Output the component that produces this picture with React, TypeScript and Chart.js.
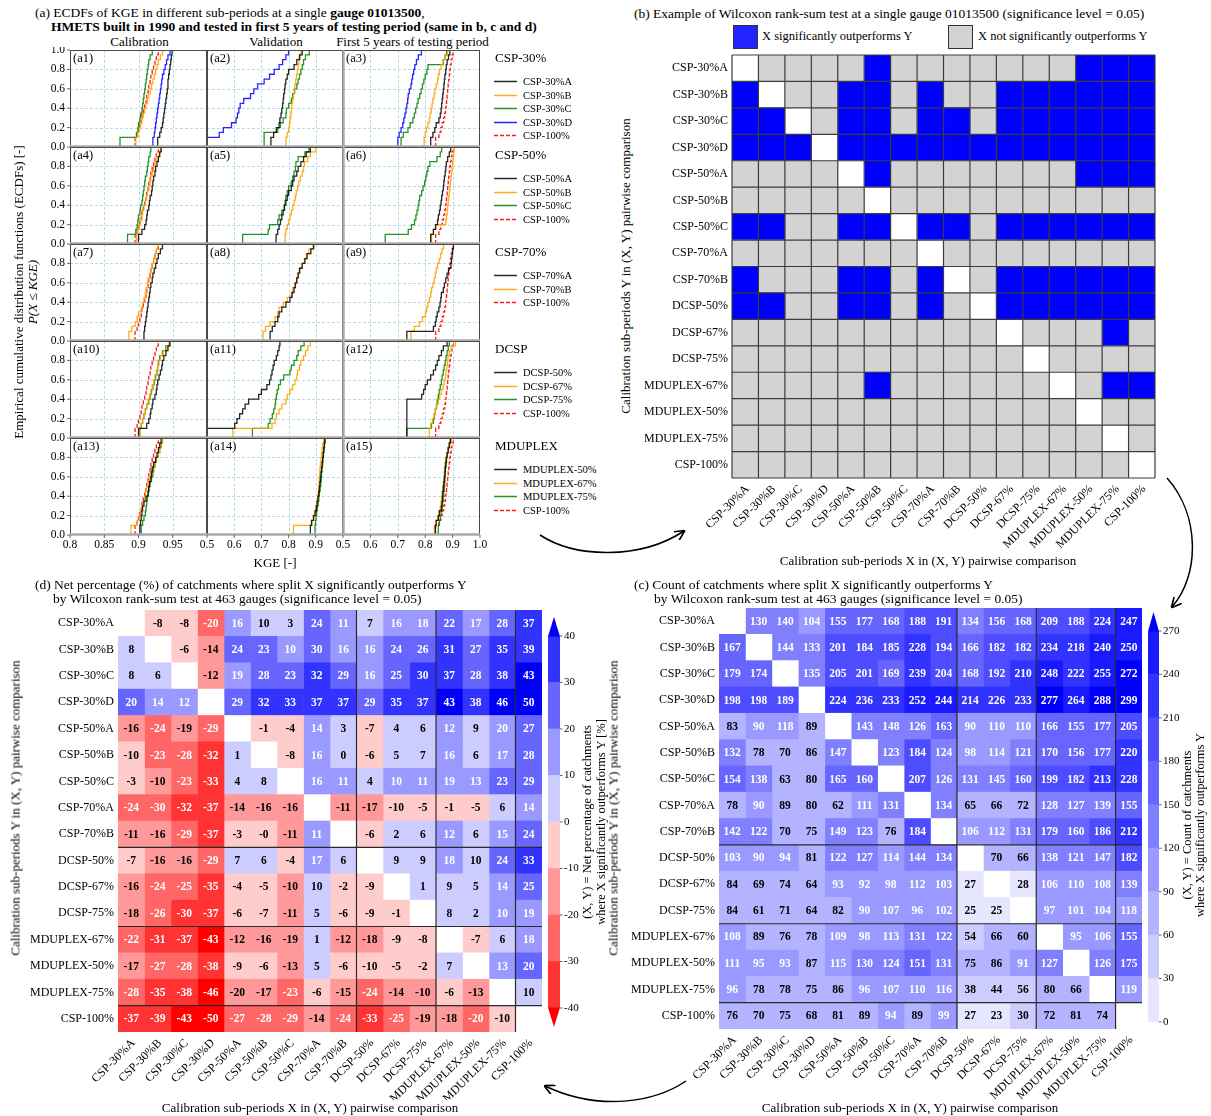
import React, { useEffect, useRef } from 'react';
import { Chart, registerables } from 'chart.js';

Chart.register(...registerables);

const FONT = '"Liberation Serif", "Times New Roman", serif';

// ---------------- Panel (a): ECDF data (sorted KGE samples, 20 per split) ----------------
const X_TICKS_CAL = [0.8, 0.85, 0.9, 0.95];
const X_TICKS_VAL = [0.5, 0.6, 0.7, 0.8, 0.9];
const X_TICKS_TEST = [0.5, 0.6, 0.7, 0.8, 0.9, 1.0];
const X_GRID_CAL = [0.85, 0.9, 0.95];
const X_GRID_WIDE = [0.6, 0.7, 0.8, 0.9];
const Y_TICKS = [0, 0.2, 0.4, 0.6, 0.8, 1.0];
const COLUMN_TITLES = ['Calibration', 'Validation', 'First 5 years of testing period'];
const GROUP_TITLES = ['CSP-30%', 'CSP-50%', 'CSP-70%', 'DCSP', 'MDUPLEX'];
const GROUP_SERIES = [
  ['CSP-30%A', 'CSP-30%B', 'CSP-30%C', 'CSP-30%D', 'CSP-100%'],
  ['CSP-50%A', 'CSP-50%B', 'CSP-50%C', 'CSP-100%'],
  ['CSP-70%A', 'CSP-70%B', 'CSP-100%'],
  ['DCSP-50%', 'DCSP-67%', 'DCSP-75%', 'CSP-100%'],
  ['MDUPLEX-50%', 'MDUPLEX-67%', 'MDUPLEX-75%', 'CSP-100%'],
];
const SERIES_COLORS = ['rgba(0,0,0,0.85)', 'rgba(255,165,0,0.9)', 'rgba(0,128,0,0.85)', 'rgba(0,0,255,0.85)'];
const REF_COLOR = 'rgba(255,0,0,0.9)';

const CSP100_CAL = [0.895, 0.898, 0.9, 0.902, 0.904, 0.905, 0.907, 0.909, 0.911, 0.912, 0.914, 0.915, 0.917, 0.918, 0.92, 0.922, 0.924, 0.926, 0.929, 0.933];
const CSP100_TEST = [0.838, 0.85, 0.857, 0.862, 0.867, 0.871, 0.874, 0.876, 0.878, 0.88, 0.882, 0.884, 0.886, 0.888, 0.89, 0.892, 0.895, 0.898, 0.902, 0.906];

const KGE_CAL_CSP30 = [
  [0.928, 0.931, 0.933, 0.935, 0.936, 0.937, 0.938, 0.939, 0.94, 0.941, 0.942, 0.943, 0.943, 0.944, 0.945, 0.946, 0.947, 0.948, 0.949, 0.951],
  [0.896, 0.899, 0.901, 0.903, 0.905, 0.907, 0.909, 0.911, 0.913, 0.915, 0.917, 0.919, 0.921, 0.923, 0.925, 0.927, 0.929, 0.932, 0.935, 0.939],
  [0.873, 0.897, 0.899, 0.9, 0.902, 0.903, 0.905, 0.906, 0.907, 0.908, 0.909, 0.91, 0.911, 0.912, 0.913, 0.914, 0.915, 0.917, 0.92, 0.938],
  [0.921, 0.923, 0.924, 0.925, 0.926, 0.927, 0.928, 0.929, 0.93, 0.931, 0.932, 0.933, 0.934, 0.935, 0.937, 0.939, 0.941, 0.943, 0.946, 0.951],
];
const KGE_VAL_CSP30 = [
  [0.735, 0.745, 0.755, 0.765, 0.768, 0.772, 0.775, 0.778, 0.78, 0.782, 0.785, 0.787, 0.79, 0.795, 0.8, 0.82, 0.83, 0.84, 0.85, 0.86],
  [0.79, 0.795, 0.8, 0.803, 0.806, 0.808, 0.81, 0.812, 0.815, 0.818, 0.82, 0.823, 0.826, 0.829, 0.832, 0.835, 0.838, 0.842, 0.846, 0.85],
  [0.71, 0.71, 0.76, 0.77, 0.78, 0.79, 0.792, 0.8, 0.81, 0.815, 0.822, 0.83, 0.835, 0.84, 0.845, 0.85, 0.855, 0.862, 0.876, 0.88],
  [0.45, 0.545, 0.56, 0.59, 0.607, 0.612, 0.617, 0.622, 0.635, 0.66, 0.672, 0.686, 0.71, 0.73, 0.747, 0.765, 0.778, 0.79, 0.8, 0.82],
];
const KGE_TEST_CSP30 = [
  [0.82, 0.828, 0.835, 0.84, 0.85, 0.855, 0.858, 0.86, 0.862, 0.864, 0.866, 0.868, 0.87, 0.872, 0.875, 0.877, 0.88, 0.885, 0.89, 0.895],
  [0.796, 0.8, 0.805, 0.81, 0.815, 0.818, 0.822, 0.825, 0.828, 0.832, 0.835, 0.84, 0.845, 0.848, 0.852, 0.858, 0.865, 0.872, 0.882, 0.895],
  [0.712, 0.72, 0.737, 0.745, 0.755, 0.76, 0.765, 0.77, 0.774, 0.78, 0.785, 0.79, 0.795, 0.8, 0.806, 0.81, 0.866, 0.872, 0.878, 0.884],
  [0.7, 0.705, 0.712, 0.718, 0.722, 0.726, 0.73, 0.733, 0.736, 0.738, 0.742, 0.748, 0.751, 0.754, 0.758, 0.762, 0.768, 0.775, 0.786, 0.79],
];
const KGE_CAL_CSP50 = [
  [0.9, 0.905, 0.909, 0.911, 0.912, 0.913, 0.915, 0.916, 0.917, 0.919, 0.92, 0.921, 0.922, 0.924, 0.925, 0.927, 0.929, 0.931, 0.933, 0.936],
  [0.897, 0.899, 0.901, 0.903, 0.905, 0.906, 0.908, 0.91, 0.912, 0.913, 0.915, 0.917, 0.918, 0.92, 0.922, 0.924, 0.927, 0.93, 0.933, 0.936],
  [0.884, 0.896, 0.898, 0.899, 0.9, 0.902, 0.903, 0.905, 0.906, 0.907, 0.908, 0.909, 0.91, 0.912, 0.913, 0.914, 0.915, 0.917, 0.918, 0.921],
];
const KGE_VAL_CSP50 = [
  [0.754, 0.76, 0.765, 0.77, 0.775, 0.78, 0.785, 0.79, 0.795, 0.8, 0.81, 0.815, 0.82, 0.83, 0.835, 0.845, 0.855, 0.865, 0.88, 0.895],
  [0.787, 0.79, 0.795, 0.8, 0.805, 0.81, 0.815, 0.82, 0.825, 0.828, 0.833, 0.838, 0.843, 0.85, 0.855, 0.858, 0.87, 0.88, 0.9, 0.913],
  [0.631, 0.725, 0.73, 0.76, 0.765, 0.775, 0.784, 0.787, 0.79, 0.795, 0.8, 0.81, 0.815, 0.82, 0.825, 0.827, 0.835, 0.86, 0.875, 0.895],
];
const KGE_TEST_CSP50 = [
  [0.82, 0.83, 0.838, 0.845, 0.848, 0.852, 0.855, 0.858, 0.86, 0.863, 0.866, 0.868, 0.87, 0.873, 0.875, 0.877, 0.882, 0.888, 0.893, 0.897],
  [0.823, 0.83, 0.838, 0.875, 0.878, 0.88, 0.882, 0.884, 0.886, 0.888, 0.89, 0.892, 0.894, 0.896, 0.898, 0.9, 0.902, 0.904, 0.906, 0.908],
  [0.654, 0.738, 0.75, 0.761, 0.766, 0.77, 0.774, 0.777, 0.78, 0.787, 0.792, 0.798, 0.802, 0.806, 0.81, 0.817, 0.843, 0.855, 0.86, 0.866],
];
const KGE_CAL_CSP70 = [
  [0.908, 0.909, 0.91, 0.911, 0.912, 0.913, 0.914, 0.915, 0.916, 0.917, 0.918, 0.92, 0.921, 0.923, 0.925, 0.927, 0.929, 0.932, 0.935, 0.942],
  [0.886, 0.89, 0.895, 0.898, 0.9, 0.904, 0.906, 0.908, 0.91, 0.911, 0.913, 0.914, 0.916, 0.918, 0.92, 0.922, 0.924, 0.926, 0.928, 0.931],
];
const KGE_VAL_CSP70 = [
  [0.732, 0.74, 0.75, 0.76, 0.765, 0.775, 0.79, 0.805, 0.813, 0.82, 0.825, 0.83, 0.835, 0.84, 0.85, 0.86, 0.868, 0.882, 0.892, 0.903],
  [0.706, 0.715, 0.732, 0.75, 0.76, 0.765, 0.78, 0.795, 0.81, 0.815, 0.823, 0.83, 0.835, 0.842, 0.85, 0.858, 0.865, 0.875, 0.89, 0.907],
];
const KGE_TEST_CSP70 = [
  [0.733, 0.83, 0.837, 0.84, 0.844, 0.85, 0.854, 0.857, 0.859, 0.866, 0.87, 0.875, 0.88, 0.885, 0.894, 0.896, 0.898, 0.9, 0.903, 0.906],
  [0.748, 0.76, 0.779, 0.79, 0.801, 0.805, 0.81, 0.815, 0.82, 0.823, 0.828, 0.833, 0.837, 0.84, 0.845, 0.851, 0.856, 0.861, 0.867, 0.873],
];
const KGE_CAL_DCSP = [
  [0.9, 0.912, 0.915, 0.917, 0.918, 0.92, 0.921, 0.924, 0.926, 0.927, 0.928, 0.93, 0.932, 0.934, 0.935, 0.937, 0.94, 0.943, 0.946, 0.949],
  [0.902, 0.904, 0.906, 0.908, 0.91, 0.912, 0.914, 0.916, 0.918, 0.92, 0.922, 0.924, 0.926, 0.928, 0.93, 0.932, 0.936, 0.941, 0.945, 0.95],
  [0.902, 0.904, 0.906, 0.908, 0.91, 0.912, 0.915, 0.917, 0.919, 0.921, 0.923, 0.925, 0.927, 0.928, 0.929, 0.931, 0.935, 0.94, 0.945, 0.949],
];
const KGE_VAL_DCSP = [
  [0.45, 0.602, 0.61, 0.62, 0.631, 0.64, 0.653, 0.69, 0.7, 0.72, 0.73, 0.735, 0.739, 0.743, 0.747, 0.755, 0.76, 0.765, 0.768, 0.785],
  [0.595, 0.739, 0.75, 0.755, 0.765, 0.775, 0.79, 0.795, 0.805, 0.815, 0.823, 0.83, 0.833, 0.84, 0.845, 0.855, 0.862, 0.87, 0.88, 0.89],
  [0.667, 0.725, 0.732, 0.74, 0.745, 0.75, 0.752, 0.755, 0.758, 0.763, 0.77, 0.782, 0.805, 0.81, 0.82, 0.83, 0.835, 0.845, 0.857, 0.868],
];
const KGE_TEST_DCSP = [
  [0.733, 0.733, 0.733, 0.733, 0.733, 0.733, 0.733, 0.787, 0.794, 0.8, 0.808, 0.82, 0.83, 0.838, 0.844, 0.85, 0.859, 0.866, 0.88, 0.887],
  [0.815, 0.82, 0.826, 0.832, 0.837, 0.842, 0.848, 0.853, 0.859, 0.865, 0.869, 0.873, 0.876, 0.879, 0.881, 0.883, 0.888, 0.895, 0.91, 0.923],
  [0.733, 0.823, 0.83, 0.834, 0.837, 0.841, 0.844, 0.848, 0.851, 0.855, 0.859, 0.862, 0.866, 0.869, 0.873, 0.876, 0.88, 0.884, 0.888, 0.895],
];
const KGE_CAL_MDUPLEX = [
  [0.902, 0.903, 0.904, 0.905, 0.906, 0.908, 0.911, 0.914, 0.915, 0.916, 0.918, 0.919, 0.92, 0.922, 0.925, 0.927, 0.929, 0.931, 0.933, 0.935],
  [0.889, 0.898, 0.901, 0.903, 0.905, 0.907, 0.909, 0.91, 0.912, 0.914, 0.916, 0.918, 0.92, 0.923, 0.926, 0.929, 0.931, 0.933, 0.935, 0.937],
  [0.904, 0.906, 0.908, 0.91, 0.911, 0.912, 0.913, 0.914, 0.915, 0.917, 0.919, 0.921, 0.922, 0.924, 0.926, 0.929, 0.931, 0.933, 0.935, 0.936],
];
const KGE_VAL_MDUPLEX = [
  [0.88, 0.885, 0.892, 0.898, 0.902, 0.905, 0.908, 0.911, 0.913, 0.915, 0.917, 0.919, 0.921, 0.923, 0.925, 0.927, 0.929, 0.931, 0.933, 0.935],
  [0.818, 0.883, 0.89, 0.895, 0.9, 0.903, 0.906, 0.909, 0.911, 0.912, 0.913, 0.914, 0.915, 0.917, 0.919, 0.921, 0.923, 0.926, 0.929, 0.933],
  [0.897, 0.899, 0.901, 0.903, 0.906, 0.909, 0.911, 0.913, 0.916, 0.918, 0.92, 0.921, 0.923, 0.925, 0.926, 0.928, 0.93, 0.932, 0.934, 0.936],
];
const KGE_TEST_MDUPLEX = [
  [0.837, 0.84, 0.848, 0.852, 0.859, 0.861, 0.863, 0.864, 0.866, 0.868, 0.87, 0.872, 0.873, 0.875, 0.877, 0.88, 0.884, 0.888, 0.892, 0.895],
  [0.834, 0.84, 0.845, 0.85, 0.855, 0.858, 0.86, 0.862, 0.864, 0.866, 0.868, 0.869, 0.87, 0.872, 0.875, 0.88, 0.885, 0.89, 0.896, 0.902],
  [0.848, 0.852, 0.855, 0.858, 0.862, 0.864, 0.866, 0.868, 0.87, 0.871, 0.872, 0.873, 0.874, 0.876, 0.878, 0.88, 0.884, 0.888, 0.892, 0.895],
];

const PANEL_A = [
  [KGE_CAL_CSP30, KGE_VAL_CSP30, KGE_TEST_CSP30],
  [KGE_CAL_CSP50, KGE_VAL_CSP50, KGE_TEST_CSP50],
  [KGE_CAL_CSP70, KGE_VAL_CSP70, KGE_TEST_CSP70],
  [KGE_CAL_DCSP, KGE_VAL_DCSP, KGE_TEST_DCSP],
  [KGE_CAL_MDUPLEX, KGE_VAL_MDUPLEX, KGE_TEST_MDUPLEX],
];

// ---------------- Panels (b), (c), (d) ----------------
const SPLITS = ['CSP-30%A', 'CSP-30%B', 'CSP-30%C', 'CSP-30%D', 'CSP-50%A', 'CSP-50%B', 'CSP-50%C', 'CSP-70%A', 'CSP-70%B', 'DCSP-50%', 'DCSP-67%', 'DCSP-75%', 'MDUPLEX-67%', 'MDUPLEX-50%', 'MDUPLEX-75%', 'CSP-100%'];
const N_GAUGES = 463;

// (b) 1 = X (column) significantly outperforms Y (row) at gauge 01013500
const SIG_ROWS = [
  [0, 0, 0, 0, 0, 1, 0, 0, 0, 0, 0, 0, 0, 1, 1, 1],
  [1, 0, 0, 0, 1, 1, 0, 1, 0, 0, 1, 1, 1, 1, 1, 1],
  [1, 1, 0, 0, 1, 1, 0, 1, 1, 0, 1, 1, 1, 1, 1, 1],
  [1, 1, 1, 0, 1, 1, 1, 1, 1, 1, 1, 1, 1, 1, 1, 1],
  [0, 0, 0, 0, 0, 1, 0, 0, 0, 0, 0, 0, 0, 1, 1, 1],
  [0, 0, 0, 0, 0, 0, 0, 0, 0, 0, 0, 0, 0, 0, 0, 0],
  [1, 1, 0, 0, 1, 1, 0, 1, 1, 0, 1, 1, 1, 1, 1, 1],
  [0, 0, 0, 0, 0, 0, 0, 0, 0, 0, 0, 0, 0, 0, 0, 0],
  [1, 0, 0, 0, 1, 1, 0, 1, 0, 0, 1, 1, 1, 1, 1, 1],
  [1, 1, 0, 0, 1, 1, 0, 1, 0, 0, 1, 1, 1, 1, 1, 1],
  [0, 0, 0, 0, 0, 0, 0, 0, 0, 0, 0, 0, 0, 0, 1, 0],
  [0, 0, 0, 0, 0, 0, 0, 0, 0, 0, 0, 0, 0, 0, 0, 0],
  [0, 0, 0, 0, 0, 1, 0, 0, 0, 0, 0, 0, 0, 0, 1, 1],
  [0, 0, 0, 0, 0, 0, 0, 0, 0, 0, 0, 0, 0, 0, 0, 0],
  [0, 0, 0, 0, 0, 0, 0, 0, 0, 0, 0, 0, 0, 0, 0, 0],
  [0, 0, 0, 0, 0, 0, 0, 0, 0, 0, 0, 0, 0, 0, 0, 0],
];

// (c) count of catchments where X (column) significantly outperforms Y (row); null = diagonal
const COUNT_ROWS = [
  [null, 130, 140, 104, 155, 177, 168, 188, 191, 134, 156, 168, 209, 188, 224, 247],
  [167, null, 144, 133, 201, 184, 185, 228, 194, 166, 182, 182, 234, 218, 240, 250],
  [179, 174, null, 135, 205, 201, 169, 239, 204, 168, 192, 210, 248, 222, 255, 272],
  [198, 198, 189, null, 224, 236, 233, 252, 244, 214, 226, 233, 277, 264, 288, 299],
  [83, 90, 118, 89, null, 143, 148, 126, 163, 90, 110, 110, 166, 155, 177, 205],
  [132, 78, 70, 86, 147, null, 123, 184, 124, 98, 114, 121, 170, 156, 177, 220],
  [154, 138, 63, 80, 165, 160, null, 207, 126, 131, 145, 160, 199, 182, 213, 228],
  [78, 90, 89, 80, 62, 111, 131, null, 134, 65, 66, 72, 128, 127, 139, 155],
  [142, 122, 70, 75, 149, 123, 76, 184, null, 106, 112, 131, 179, 160, 186, 212],
  [103, 90, 94, 81, 122, 127, 114, 144, 134, null, 70, 66, 138, 121, 147, 182],
  [84, 69, 74, 64, 93, 92, 98, 112, 103, 27, null, 28, 106, 110, 108, 139],
  [84, 61, 71, 64, 82, 90, 107, 96, 102, 25, 25, null, 97, 101, 104, 118],
  [108, 89, 76, 78, 109, 98, 113, 131, 122, 54, 66, 60, null, 95, 106, 155],
  [111, 95, 93, 87, 115, 130, 124, 151, 131, 75, 86, 91, 127, null, 126, 175],
  [96, 78, 78, 75, 86, 96, 107, 110, 116, 38, 44, 56, 80, 66, null, 119],
  [76, 70, 75, 68, 81, 89, 94, 89, 99, 27, 23, 30, 72, 81, 74, null],
];

const GROUP_BREAKS = [9, 12, 15];
const COUNT_BOUNDS = [0, 30, 60, 90, 120, 150, 180, 210, 240, 270];
const COUNT_COLORS = ['rgb(230,230,255)', 'rgb(204,204,255)', 'rgb(179,179,255)', 'rgb(153,153,255)', 'rgb(128,128,255)', 'rgb(102,102,255)', 'rgb(77,77,255)', 'rgb(51,51,255)', 'rgb(26,26,255)'];
const COUNT_OVER = 'rgb(0,0,250)';
const NET_BOUNDS = [-40, -30, -20, -10, 0, 10, 20, 30, 40];
const NET_COLORS = ['rgb(255,51,51)', 'rgb(255,102,102)', 'rgb(255,153,153)', 'rgb(255,204,204)', 'rgb(204,204,255)', 'rgb(153,153,255)', 'rgb(102,102,255)', 'rgb(51,51,255)'];
const NET_UNDER = 'rgb(255,0,0)';
const NET_OVER = 'rgb(0,0,245)';

// net percentage table built from the counts: (N(X>Y) - N(Y>X)) / 463 * 100
const netValue = (i: number, j: number) =>
  i === j ? null : (((COUNT_ROWS[i][j] as number) - (COUNT_ROWS[j][i] as number)) / N_GAUGES) * 100;

function countColor(v: number | null) {
  if (v === null) return '#ffffff';
  const k = Math.floor(v / 30);
  return k >= 9 ? COUNT_OVER : COUNT_COLORS[k];
}
function netColor(v: number | null) {
  if (v === null) return '#ffffff';
  if (v >= 40) return NET_OVER;
  if (v < -40) return NET_UNDER;
  return NET_COLORS[Math.floor(v / 10) + 4];
}
function fmtNet(v: number) {
  return (v < 0 ? '-' : '') + Math.round(Math.abs(v));
}

// ---------------- generic chart host ----------------
function ChartBox({ x, y, w, h, make }: { x: number; y: number; w: number; h: number; make: () => any }) {
  const ref = useRef<HTMLCanvasElement | null>(null);
  useEffect(() => {
    const chart = new Chart(ref.current as HTMLCanvasElement, make());
    return () => chart.destroy();
  }, []);
  return <canvas ref={ref} width={w} height={h} style={{ position: 'absolute', left: x, top: y, width: w, height: h }} />;
}

const baseOptions = (pad: any) => ({
  responsive: false,
  maintainAspectRatio: false,
  animation: false,
  devicePixelRatio: 1,
  events: [],
  layout: { padding: pad },
  plugins: { legend: { display: false }, tooltip: { enabled: false } },
});

// ---------------- ECDF subplot ----------------
const PX = [70, 207, 343, 480];
const PY0 = 50;
const ROW_H = 97;

function ecdfPoints(vals: number[]) {
  const s = [...vals].sort((a, b) => a - b);
  const pts = [{ x: s[0], y: 0 }];
  s.forEach((v, i) => pts.push({ x: v, y: (i + 1) / s.length }));
  return pts;
}

function ecdfPlugin(r: number, c: number) {
  const xGrid = c === 0 ? X_GRID_CAL : X_GRID_WIDE;
  const xTicks = c === 0 ? X_TICKS_CAL : c === 1 ? X_TICKS_VAL : X_TICKS_TEST;
  return {
    id: 'ecdfFrame',
    beforeDatasetsDraw(chart: any) {
      const { ctx, chartArea: ca, scales } = chart;
      ctx.save();
      ctx.strokeStyle = 'rgba(140,195,220,0.75)';
      ctx.lineWidth = 0.8;
      ctx.setLineDash([3, 2]);
      xGrid.forEach((v) => {
        const px = Math.round(scales.x.getPixelForValue(v)) + 0.5;
        ctx.beginPath(); ctx.moveTo(px, ca.top); ctx.lineTo(px, ca.bottom); ctx.stroke();
      });
      [0.2, 0.4, 0.6, 0.8].forEach((v) => {
        const py = Math.round(scales.y.getPixelForValue(v)) + 0.5;
        ctx.beginPath(); ctx.moveTo(ca.left, py); ctx.lineTo(ca.right, py); ctx.stroke();
      });
      ctx.restore();
    },
    afterDatasetsDraw(chart: any) {
      const { ctx, chartArea: ca, scales } = chart;
      ctx.save();
      ctx.strokeStyle = '#4a4a4a';
      ctx.lineWidth = 1;
      ctx.strokeRect(ca.left + 0.5, ca.top + 0.5, ca.right - ca.left - 1, ca.bottom - ca.top - 1);
      ctx.strokeStyle = '#a9a9a9';
      ctx.lineWidth = 2.4;
      ctx.beginPath(); ctx.moveTo(ca.left, ca.bottom - 0.5); ctx.lineTo(ca.right, ca.bottom - 0.5); ctx.stroke();
      if (c === 2) {
        ctx.beginPath(); ctx.moveTo(ca.left + 0.5, ca.top); ctx.lineTo(ca.left + 0.5, ca.bottom); ctx.stroke();
      }
      ctx.fillStyle = '#000';
      ctx.font = `12.5px ${FONT}`;
      ctx.textAlign = 'left';
      ctx.textBaseline = 'middle';
      ctx.fillText(`(a${r * 3 + c + 1})`, ca.left + 3, ca.top + 9);
      ctx.font = `11.5px ${FONT}`;
      ctx.strokeStyle = '#444';
      ctx.lineWidth = 0.8;
      if (c === 0) {
        ctx.textAlign = 'right';
        Y_TICKS.forEach((v) => {
          if (r > 0 && v === 1) return;
          const py = scales.y.getPixelForValue(v);
          ctx.beginPath(); ctx.moveTo(ca.left - 3, py); ctx.lineTo(ca.left, py); ctx.stroke();
          ctx.fillText(v.toFixed(1), ca.left - 5, py);
        });
      }
      if (r === 4) {
        ctx.textAlign = 'center';
        ctx.textBaseline = 'top';
        xTicks.forEach((v) => {
          const px = scales.x.getPixelForValue(v);
          ctx.beginPath(); ctx.moveTo(px, ca.bottom); ctx.lineTo(px, ca.bottom + 3); ctx.stroke();
          const label = c === 0 && (v === 0.85 || v === 0.95) ? v.toFixed(2) : v.toFixed(1);
          ctx.fillText(label, px, ca.bottom + 4);
        });
      }
      ctx.restore();
    },
  };
}

function makeEcdf(r: number, c: number, pad: any) {
  return () => {
    const series = PANEL_A[r][c];
    const datasets: any[] = series.map((vals, i) => ({
      data: ecdfPoints(vals),
      borderColor: SERIES_COLORS[i],
      borderWidth: 1.3,
      stepped: 'after',
      pointRadius: 0,
      fill: false,
    }));
    if (c !== 1) {
      datasets.push({
        data: ecdfPoints(c === 0 ? CSP100_CAL : CSP100_TEST),
        borderColor: REF_COLOR,
        borderWidth: 1.3,
        borderDash: [4, 2],
        stepped: 'after',
        pointRadius: 0,
        fill: false,
      });
    }
    return {
      type: 'line',
      data: { datasets },
      options: {
        ...baseOptions(pad),
        scales: {
          x: { type: 'linear', min: c === 0 ? 0.8 : 0.5, max: 1.0, display: false },
          y: { type: 'linear', min: 0, max: 1, display: false },
        },
      },
      plugins: [ecdfPlugin(r, c)],
    };
  };
}

function EcdfCell({ r, c }: { r: number; c: number }) {
  const x0 = PX[c], x1 = PX[c + 1];
  const y0 = PY0 + r * ROW_H, y1 = y0 + ROW_H;
  const pl = c === 0 ? 45 : 12;
  const pr = c === 2 ? 12 : 3;
  const pt = 3;
  const pb = r === 4 ? 20 : 3;
  const pad = { left: pl, right: pr, top: pt, bottom: pb };
  return <ChartBox x={x0 - pl} y={y0 - pt} w={x1 - x0 + pl + pr} h={y1 - y0 + pt + pb} make={makeEcdf(r, c, pad)} />;
}

// ---------------- heatmaps ----------------
function heatmapPlugin(p: {
  text?: (i: number, j: number) => string | null;
  textColor?: (i: number, j: number) => string;
  allBorders?: boolean;
  groupLines?: number[];
}) {
  return {
    id: 'heatDecor',
    afterDatasetsDraw(chart: any) {
      const { ctx, chartArea: ca, scales } = chart;
      const xs = scales.x, ys = scales.y;
      const n = SPLITS.length;
      const rowH = (ca.bottom - ca.top) / n;
      ctx.save();
      if (p.text) {
        ctx.font = `bold 11.5px ${FONT}`;
        ctx.textAlign = 'center';
        ctx.textBaseline = 'middle';
        for (let i = 0; i < n; i++) {
          for (let j = 0; j < n; j++) {
            const t = p.text(i, j);
            if (t === null) continue;
            ctx.fillStyle = p.textColor ? p.textColor(i, j) : '#000';
            ctx.fillText(t, xs.getPixelForValue(j + 0.5), ys.getPixelForValue(i) + 0.5);
          }
        }
      }
      if (p.allBorders) {
        ctx.strokeStyle = '#3c3c3c';
        ctx.lineWidth = 1.2;
        for (let k = 0; k <= n; k++) {
          const px = xs.getPixelForValue(k);
          ctx.beginPath(); ctx.moveTo(px, ca.top); ctx.lineTo(px, ca.bottom); ctx.stroke();
          const py = ca.top + k * rowH;
          ctx.beginPath(); ctx.moveTo(ca.left, py); ctx.lineTo(ca.right, py); ctx.stroke();
        }
      }
      if (p.groupLines) {
        ctx.strokeStyle = '#2a2a2a';
        ctx.lineWidth = 1.2;
        p.groupLines.forEach((k) => {
          const px = xs.getPixelForValue(k);
          ctx.beginPath(); ctx.moveTo(px, ca.top); ctx.lineTo(px, ca.bottom); ctx.stroke();
          const py = ca.top + k * rowH;
          ctx.beginPath(); ctx.moveTo(ca.left, py); ctx.lineTo(ca.right, py); ctx.stroke();
        });
      }
      ctx.fillStyle = '#000';
      ctx.font = `12px ${FONT}`;
      ctx.textAlign = 'right';
      ctx.textBaseline = 'middle';
      SPLITS.forEach((s, i) => ctx.fillText(s, ca.left - 4, ys.getPixelForValue(i)));
      SPLITS.forEach((s, j) => {
        ctx.save();
        ctx.translate(xs.getPixelForValue(j + 0.5) - 2, ca.bottom + 5);
        ctx.rotate(-Math.PI / 4);
        ctx.textAlign = 'right';
        ctx.textBaseline = 'top';
        ctx.fillText(s, 0, 0);
        ctx.restore();
      });
      ctx.restore();
    },
  };
}

function makeHeatmap(pad: any, color: (i: number, j: number) => string, plugin: any) {
  return () => ({
    type: 'bar',
    data: {
      labels: SPLITS,
      datasets: SPLITS.map((_, j) => ({
        data: SPLITS.map(() => [j, j + 1]),
        backgroundColor: SPLITS.map((__, i) => color(i, j)),
        borderWidth: 0,
        grouped: false,
        barPercentage: 1,
        categoryPercentage: 1,
      })),
    },
    options: {
      ...baseOptions(pad),
      indexAxis: 'y',
      scales: {
        x: { type: 'linear', min: 0, max: SPLITS.length, display: false },
        y: { type: 'category', display: false, offset: true },
      },
    },
    plugins: [plugin],
  });
}

function colorbarPlugin(p: { ticks: number[]; over?: string; under?: string; tip: number }) {
  return {
    id: 'cbarDecor',
    afterDatasetsDraw(chart: any) {
      const { ctx, chartArea: ca, scales } = chart;
      const cx = (ca.left + ca.right) / 2;
      ctx.save();
      if (p.over) {
        ctx.fillStyle = p.over;
        ctx.beginPath(); ctx.moveTo(ca.left, ca.top + 0.5); ctx.lineTo(ca.right, ca.top + 0.5); ctx.lineTo(cx, ca.top - p.tip); ctx.closePath(); ctx.fill();
      }
      if (p.under) {
        ctx.fillStyle = p.under;
        ctx.beginPath(); ctx.moveTo(ca.left, ca.bottom - 0.5); ctx.lineTo(ca.right, ca.bottom - 0.5); ctx.lineTo(cx, ca.bottom + p.tip); ctx.closePath(); ctx.fill();
      }
      ctx.font = `11px ${FONT}`;
      ctx.fillStyle = '#000';
      ctx.textAlign = 'left';
      ctx.textBaseline = 'middle';
      ctx.strokeStyle = '#333';
      ctx.lineWidth = 0.8;
      p.ticks.forEach((v) => {
        const py = scales.y.getPixelForValue(v);
        ctx.beginPath(); ctx.moveTo(ca.right, py); ctx.lineTo(ca.right + 2.5, py); ctx.stroke();
        ctx.fillText(String(v), ca.right + 4, py);
      });
      ctx.restore();
    },
  };
}

function makeColorbar(pad: any, bounds: number[], colors: string[], plugin: any) {
  return () => ({
    type: 'bar',
    data: {
      labels: [''],
      datasets: colors.map((col, k) => ({
        data: [[bounds[k], bounds[k + 1]]],
        backgroundColor: col,
        borderWidth: 0,
        grouped: false,
        barPercentage: 1,
        categoryPercentage: 1,
      })),
    },
    options: {
      ...baseOptions(pad),
      scales: {
        x: { type: 'category', display: false },
        y: { type: 'linear', min: bounds[0], max: bounds[bounds.length - 1], display: false },
      },
    },
    plugins: [plugin],
  });
}

// ---------------- text helper ----------------
function T({ x, y, children, size = 12.5, bold = false, italic = false, anchor = 'start', rotate = false }: any) {
  const tx = anchor === 'middle' ? '-50%' : anchor === 'end' ? '-100%' : '0';
  return (
    <div
      style={{
        position: 'absolute',
        left: x,
        top: y,
        transform: rotate ? 'translate(-50%,-50%) rotate(-90deg)' : `translate(${tx},-50%)`,
        fontFamily: FONT,
        fontSize: size,
        fontWeight: bold ? 'bold' : 'normal',
        fontStyle: italic ? 'italic' : 'normal',
        whiteSpace: 'nowrap',
        lineHeight: 1.15,
        color: '#000',
      }}
    >
      {children}
    </div>
  );
}

export default function App() {
  return (
    <div style={{ position: 'absolute', left: 0, top: 0, width: 1211, height: 1116, background: '#fff', overflow: 'hidden' }}>
      {/* ---------- Panel (a) ---------- */}
      <T x={35} y={13} size={13.5}>
        (a) ECDFs of KGE in different sub-periods at a single <b>gauge 01013500</b>,
      </T>
      <T x={51} y={27} size={13.5} bold>
        HMETS built in 1990 and tested in first 5 years of testing period (same in b, c and d)
      </T>
      {COLUMN_TITLES.map((t, c) => (
        <T key={t} x={(PX[c] + PX[c + 1]) / 2 + 1} y={42} anchor="middle" size={13}>
          {t}
        </T>
      ))}
      {[0, 1, 2, 3, 4].map((r) => [0, 1, 2].map((c) => <EcdfCell key={`e${r}${c}`} r={r} c={c} />))}
      <T x={19} y={292} rotate size={13}>
        Empirical cumulative distribution functions (ECDFs) [-]
      </T>
      <T x={33} y={292} rotate italic size={13}>
        P(X ≤ KGE)
      </T>
      <T x={275} y={563} anchor="middle" size={13}>
        KGE [-]
      </T>
      <svg width={30} height={560} style={{ position: 'absolute', left: 490, top: 0 }}>
        {GROUP_SERIES.map((names, gi) =>
          names.map((s, i) => {
            const yy = Math.round(PY0 + gi * ROW_H + 31 + i * 13.6) + 0.5;
            const isRef = i === names.length - 1;
            return (
              <line
                key={s + gi}
                x1={4}
                x2={27}
                y1={yy}
                y2={yy}
                stroke={isRef ? REF_COLOR : SERIES_COLORS[i]}
                strokeWidth={1.5}
                strokeDasharray={isRef ? '4 2' : undefined}
              />
            );
          })
        )}
      </svg>
      {GROUP_TITLES.map((g, gi) => {
        const yT = PY0 + gi * ROW_H;
        return (
          <React.Fragment key={g}>
            <T x={495} y={yT + 8} size={13}>
              {g}
            </T>
            {GROUP_SERIES[gi].map((s, i) => (
              <T key={s} x={523} y={Math.round(yT + 31 + i * 13.6) + 0.5} size={10.5}>
                {s}
              </T>
            ))}
          </React.Fragment>
        );
      })}

      {/* ---------- Panel (b) ---------- */}
      <T x={634} y={14} size={13.5}>
        (b) Example of Wilcoxon rank-sum test at a single gauge 01013500 (significance level = 0.05)
      </T>
      <div style={{ position: 'absolute', left: 733, top: 25, width: 23, height: 22, background: '#2424ff', border: '1px solid #333' }} />
      <T x={762} y={36} size={12.5}>
        X significantly outperforms Y
      </T>
      <div style={{ position: 'absolute', left: 948, top: 25, width: 23, height: 22, background: '#d3d3d3', border: '1px solid #333' }} />
      <T x={978} y={36} size={12.5}>
        X not significantly outperforms Y
      </T>
      <ChartBox
        x={640}
        y={50}
        w={520}
        h={510}
        make={makeHeatmap(
          { left: 92, top: 5, right: 5, bottom: 82 },
          (i, j) => (i === j ? '#ffffff' : SIG_ROWS[i][j] ? '#0000ff' : '#d3d3d3'),
          heatmapPlugin({ allBorders: true })
        )}
      />
      <T x={626} y={266} rotate size={13}>
        Calibration sub-periods Y in (X, Y) pairwise comparison
      </T>
      <T x={928} y={561} anchor="middle" size={13}>
        Calibration sub-periods X in (X, Y) pairwise comparison
      </T>

      {/* ---------- Panel (c) ---------- */}
      <T x={634} y={585} size={13.5}>
        (c) Count of catchments where split X significantly outperforms Y
      </T>
      <T x={654} y={599} size={13.5}>
        by Wilcoxon rank-sum test at 463 gauges (significance level = 0.05)
      </T>
      <ChartBox
        x={620}
        y={603}
        w={525}
        h={497}
        make={makeHeatmap(
          { left: 99, top: 5, right: 3, bottom: 71 },
          (i, j) => countColor(COUNT_ROWS[i][j]),
          heatmapPlugin({
            text: (i, j) => (COUNT_ROWS[i][j] === null ? null : String(COUNT_ROWS[i][j])),
            textColor: (i, j) => ((COUNT_ROWS[i][j] as number) >= 90 ? '#ffffff' : '#000000'),
            groupLines: GROUP_BREAKS,
          })
        )}
      />
      <ChartBox
        x={1144}
        y={605}
        w={41}
        h={423}
        make={makeColorbar(
          { left: 4, right: 26, top: 26, bottom: 6 },
          COUNT_BOUNDS,
          COUNT_COLORS,
          colorbarPlugin({ ticks: COUNT_BOUNDS, over: COUNT_OVER, tip: 19 })
        )}
      />
      <T x={614} y={808} rotate size={13}>
        Calibration sub-periods Y in (X, Y) pairwise comparison
      </T>
      <T x={910} y={1108} anchor="middle" size={13}>
        Calibration sub-periods X in (X, Y) pairwise comparison
      </T>
      <T x={1187} y={825} rotate size={12.5}>
        (X, Y) = Count of catchments
      </T>
      <T x={1200} y={825} rotate size={12.5}>
        where X significantly outperforms Y
      </T>

      {/* ---------- Panel (d) ---------- */}
      <T x={35} y={585} size={13.5}>
        (d) Net percentage (%) of catchments where split X significantly outperforms Y
      </T>
      <T x={53} y={599} size={13.5}>
        by Wilcoxon rank-sum test at 463 gauges (significance level = 0.05)
      </T>
      <ChartBox
        x={20}
        y={605}
        w={525}
        h={495}
        make={makeHeatmap(
          { left: 98, top: 5, right: 3, bottom: 68 },
          (i, j) => netColor(netValue(i, j)),
          heatmapPlugin({
            text: (i, j) => {
              const v = netValue(i, j);
              return v === null ? null : fmtNet(v);
            },
            textColor: (i, j) => {
              const v = netValue(i, j) as number;
              return v >= 10 || v < -20 ? '#ffffff' : '#000000';
            },
            groupLines: GROUP_BREAKS,
          })
        )}
      />
      <ChartBox
        x={545}
        y={612}
        w={36}
        h={420}
        make={makeColorbar(
          { left: 3, right: 21, top: 24, bottom: 24 },
          NET_BOUNDS,
          NET_COLORS,
          colorbarPlugin({ ticks: NET_BOUNDS, over: NET_OVER, under: NET_UNDER, tip: 19 })
        )}
      />
      <T x={16} y={808} rotate size={13}>
        Calibration sub-periods Y in (X, Y) pairwise comparison
      </T>
      <T x={310} y={1108} anchor="middle" size={13}>
        Calibration sub-periods X in (X, Y) pairwise comparison
      </T>
      <T x={587} y={822} rotate size={12.5}>
        (X, Y) = Net percentage of catchments
      </T>
      <T x={601} y={822} rotate size={12.5}>
        where X significantly outperforms Y [%]
      </T>

      {/* ---------- connecting arrows ---------- */}
      <svg width={1211} height={1116} style={{ position: 'absolute', left: 0, top: 0, pointerEvents: 'none' }}>
        <defs>
          <marker id="ah" viewBox="0 0 10 10" refX="9" refY="5" markerWidth="7" markerHeight="7" orient="auto">
            <path d="M0,0 L10,5 L0,10" fill="none" stroke="#000" strokeWidth="1.6" />
          </marker>
        </defs>
        <path d="M540 535 C 575 558, 640 560, 684 531" fill="none" stroke="#000" strokeWidth={1.5} markerEnd="url(#ah)" />
        <path d="M1167 478 C 1200 515, 1200 575, 1172 607" fill="none" stroke="#000" strokeWidth={1.5} markerEnd="url(#ah)" />
        <path d="M686 1081 C 655 1102, 600 1112, 545 1086" fill="none" stroke="#000" strokeWidth={1.5} markerEnd="url(#ah)" />
      </svg>
    </div>
  );
}
